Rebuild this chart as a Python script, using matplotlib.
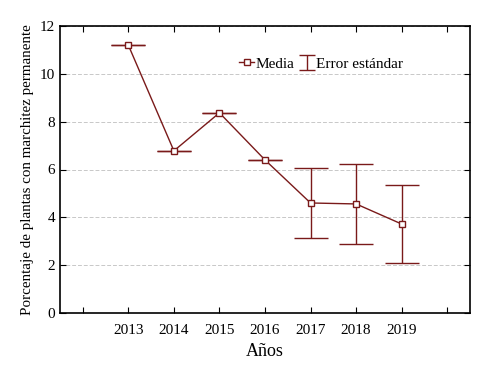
import numpy as np
import matplotlib
matplotlib.use('Agg')
import matplotlib.pyplot as plt

years = [2013, 2014, 2015, 2016, 2017, 2018, 2019]
media = [11.2, 6.78, 8.37, 6.4, 4.6, 4.56, 3.72]
error = [0.0, 0.0, 0.0, 0.0, 1.47, 1.67, 1.64]

plt.rcParams['font.family'] = ['Liberation Serif', 'DejaVu Serif']
col = '#7a1a1a'

fig = plt.figure(figsize=(4.96, 3.65), dpi=100)
ax = fig.add_axes([60 / 496, 1 - 313 / 365, 410 / 496, 287 / 365])

ax.errorbar(years, media, yerr=error, fmt='none', ecolor=col, elinewidth=1,
            capsize=12, capthick=1, zorder=2)
line, = ax.plot(years, media, color=col, lw=1, marker='s', ms=5, mfc='white',
                mec=col, mew=1, label='Media', zorder=3)
# proxy for the legend with smaller caps
proxy = ax.errorbar([np.nan], [np.nan], yerr=[1], fmt='none', ecolor=col,
                    elinewidth=1, capsize=6, capthick=1)

ax.set_xlim(2011.5, 2020.5)
ax.set_ylim(0, 12)
ax.set_xticks(range(2012, 2021))
ax.set_xticklabels([''] + [str(y) for y in years] + [''])
ax.set_yticks(range(0, 13, 2))
ax.yaxis.grid(True, linestyle=(0, (4, 2)), color='#c8c8c8', lw=0.7)
ax.set_axisbelow(True)
ax.tick_params(direction='in', top=True, right=True, labelsize=11, length=4)
ax.tick_params(axis='x', pad=8)
for s in ax.spines.values():
    s.set_linewidth(1.2)

ax.set_xlabel('Años', fontsize=13)
ax.set_ylabel('Porcentaje de plantas con marchitez permanente', fontsize=10.8)

ax.legend([line, proxy], ['Media', 'Error estándar'], loc='upper right',
          bbox_to_anchor=(0.87, 0.94), ncol=2, frameon=False, fontsize=11,
          handlelength=1.0, handletextpad=0.1, columnspacing=0.3)

fig.savefig('out.png', dpi=100)
